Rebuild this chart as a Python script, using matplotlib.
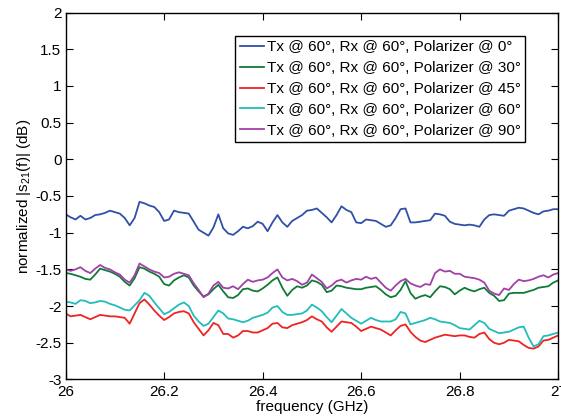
import numpy as np
import matplotlib
matplotlib.use("Agg")
import matplotlib.pyplot as plt

FONT_SIZE = 11
plt.rcParams["font.family"] = ["Liberation Sans", "DejaVu Sans"]
plt.rcParams["mathtext.fontset"] = "custom"
plt.rcParams["mathtext.rm"] = "Liberation Sans"
plt.rcParams["mathtext.it"] = "Liberation Sans"

# frequency grid (GHz), one reading every 10 MHz
freq = np.round(np.arange(26.0, 27.0001, 0.01), 2)

pol_0 = [
    -0.75, -0.79, -0.82, -0.77, -0.82, -0.80, -0.76, -0.75, -0.73, -0.70,
    -0.72, -0.74, -0.80, -0.90, -0.80, -0.58, -0.60, -0.63, -0.65, -0.72,
    -0.84, -0.82, -0.70, -0.72, -0.73, -0.74, -0.85, -0.96, -1.00, -1.04,
    -0.93, -0.75, -0.94, -1.01, -1.03, -0.98, -0.92, -0.94, -0.91, -0.85,
    -0.88, -0.98, -0.86, -0.76, -0.86, -0.92, -0.84, -0.80, -0.76, -0.70,
    -0.69, -0.67, -0.73, -0.79, -0.86, -0.76, -0.64, -0.69, -0.72, -0.86,
    -0.87, -0.82, -0.83, -0.84, -0.88, -0.92, -0.90, -0.80, -0.68, -0.67,
    -0.86, -0.86, -0.85, -0.84, -0.83, -0.74, -0.75, -0.77, -0.85, -0.88,
    -0.89, -0.90, -0.89, -0.90, -0.92, -0.82, -0.76, -0.75, -0.76, -0.77,
    -0.70, -0.68, -0.66, -0.67, -0.70, -0.73, -0.75, -0.71, -0.70, -0.68,
    -0.68,
]

pol_30 = [
    -1.55, -1.56, -1.58, -1.60, -1.63, -1.64, -1.57, -1.49, -1.51, -1.53,
    -1.56, -1.60, -1.67, -1.72, -1.62, -1.47, -1.49, -1.53, -1.56, -1.60,
    -1.70, -1.72, -1.65, -1.61, -1.58, -1.61, -1.72, -1.80, -1.87, -1.84,
    -1.77, -1.71, -1.80, -1.88, -1.89, -1.85, -1.77, -1.76, -1.79, -1.80,
    -1.76, -1.71, -1.65, -1.61, -1.75, -1.86, -1.78, -1.73, -1.75, -1.72,
    -1.65, -1.67, -1.71, -1.81, -1.79, -1.72, -1.73, -1.75, -1.76, -1.77,
    -1.77, -1.75, -1.74, -1.73, -1.78, -1.84, -1.88, -1.86, -1.78, -1.66,
    -1.82, -1.90, -1.87, -1.85, -1.88, -1.80, -1.73, -1.74, -1.77, -1.84,
    -1.79, -1.75, -1.78, -1.80, -1.77, -1.75, -1.82, -1.86, -1.93, -1.92,
    -1.83, -1.82, -1.82, -1.82, -1.80, -1.78, -1.75, -1.74, -1.73, -1.68,
    -1.65,
]

pol_45 = [
    -2.10, -2.14, -2.13, -2.12, -2.15, -2.18, -2.15, -2.12, -2.13, -2.14,
    -2.14, -2.15, -2.16, -2.24, -2.10, -1.96, -1.91, -1.98, -2.06, -2.13,
    -2.19, -2.15, -2.10, -2.08, -2.07, -2.10, -2.22, -2.31, -2.40, -2.33,
    -2.23, -2.26, -2.38, -2.38, -2.43, -2.40, -2.34, -2.34, -2.36, -2.36,
    -2.33, -2.30, -2.24, -2.23, -2.29, -2.30, -2.26, -2.24, -2.22, -2.19,
    -2.14, -2.18, -2.21, -2.29, -2.35, -2.28, -2.21, -2.22, -2.23, -2.28,
    -2.34, -2.31, -2.28, -2.30, -2.32, -2.36, -2.40, -2.33, -2.27, -2.25,
    -2.35, -2.42, -2.47, -2.49, -2.46, -2.43, -2.41, -2.39, -2.40, -2.41,
    -2.40, -2.40, -2.42, -2.43, -2.38, -2.36, -2.45, -2.50, -2.52, -2.50,
    -2.46, -2.47, -2.48, -2.53, -2.57, -2.58, -2.55, -2.47, -2.46, -2.43,
    -2.40,
]

pol_60 = [
    -1.94, -1.95, -1.97, -1.92, -1.93, -1.96, -1.95, -1.93, -1.94, -1.97,
    -1.99, -2.02, -2.05, -2.06, -1.99, -1.92, -1.82, -1.86, -1.95, -2.03,
    -2.11, -2.08, -2.03, -1.98, -1.95, -2.00, -2.13, -2.21, -2.27, -2.24,
    -2.15, -2.06, -2.10, -2.17, -2.18, -2.20, -2.22, -2.20, -2.16, -2.14,
    -2.12, -2.09, -2.02, -2.00, -2.08, -2.12, -2.12, -2.11, -2.10, -2.06,
    -1.98, -2.02, -2.07, -2.15, -2.22, -2.13, -2.04, -2.10, -2.16, -2.20,
    -2.24, -2.20, -2.16, -2.19, -2.21, -2.21, -2.21, -2.18, -2.08, -2.10,
    -2.25, -2.23, -2.21, -2.19, -2.16, -2.18, -2.21, -2.22, -2.23, -2.26,
    -2.30, -2.31, -2.32, -2.26, -2.20, -2.23, -2.31, -2.34, -2.37, -2.36,
    -2.35, -2.32, -2.29, -2.28, -2.43, -2.55, -2.52, -2.41, -2.40, -2.38,
    -2.36,
]

pol_90 = [
    -1.50, -1.52, -1.50, -1.47, -1.52, -1.55, -1.49, -1.44, -1.48, -1.50,
    -1.54, -1.57, -1.64, -1.68, -1.58, -1.42, -1.46, -1.50, -1.53, -1.55,
    -1.61, -1.60, -1.56, -1.54, -1.56, -1.58, -1.69, -1.78, -1.88, -1.83,
    -1.72, -1.67, -1.75, -1.76, -1.73, -1.77, -1.70, -1.64, -1.67, -1.65,
    -1.64, -1.61, -1.55, -1.50, -1.61, -1.65, -1.63, -1.66, -1.71, -1.68,
    -1.57, -1.62, -1.67, -1.76, -1.72, -1.66, -1.64, -1.68, -1.65, -1.63,
    -1.64, -1.60, -1.63, -1.61, -1.68, -1.75, -1.79, -1.72, -1.66, -1.63,
    -1.69, -1.72, -1.74, -1.70, -1.71, -1.55, -1.50, -1.53, -1.52, -1.56,
    -1.56, -1.60, -1.61, -1.62, -1.64, -1.68, -1.79, -1.83, -1.85, -1.76,
    -1.78, -1.70, -1.64, -1.66, -1.65, -1.63, -1.60, -1.58, -1.61, -1.57,
    -1.55,
]

series = [pol_0, pol_30, pol_45, pol_60, pol_90]
angles = [0, 30, 45, 60, 90]
colors = ["#3050a8", "#107a38", "#ee2424", "#22bcbc", "#a040a8"]

x_ticks = [26, 26.2, 26.4, 26.6, 26.8, 27]
x_tick_labels = ["26", "26.2", "26.4", "26.6", "26.8", "27"]
y_ticks = [-3, -2.5, -2, -1.5, -1, -0.5, 0, 0.5, 1, 1.5, 2]
y_tick_labels = ["-3", "-2.5", "-2", "-1.5", "-1", "-0.5", "0", "0.5", "1", "1.5", "2"]

fig = plt.figure(figsize=(5.61, 4.17), dpi=100)
ax = fig.add_axes([0.117, 0.09, 0.878, 0.88])

for values, angle, color in zip(series, angles, colors):
    ax.plot(freq, values, color=color, lw=1.3,
            label=f"Tx @ 60°, Rx @ 60°, Polarizer @ {angle}°")

ax.set_xlim(26, 27)
ax.set_ylim(-3, 2)
ax.set_xticks(x_ticks)
ax.set_xticklabels(x_tick_labels)
ax.set_yticks(y_ticks)
ax.set_yticklabels(y_tick_labels)
ax.tick_params(direction="in", top=True, right=True, length=5, width=0.8,
               labelsize=FONT_SIZE)
ax.tick_params(axis="x", pad=4)
ax.tick_params(axis="y", pad=3)
for spine in ax.spines.values():
    spine.set_linewidth(1.0)

ax.set_xlabel("frequency (GHz)", fontsize=FONT_SIZE, labelpad=1)
ax.set_ylabel("normalized |s$_{21}$(f)| (dB)", fontsize=FONT_SIZE, labelpad=2)

leg = ax.legend(loc="upper right", bbox_to_anchor=(0.933, 0.937), fontsize=FONT_SIZE,
                fancybox=False, framealpha=1, edgecolor="black",
                handlelength=1.55, handletextpad=0.2, borderpad=0.3,
                labelspacing=0.45, borderaxespad=0)
leg.get_frame().set_linewidth(1.0)

fig.savefig("out.png", dpi=100)
plt.close(fig)
